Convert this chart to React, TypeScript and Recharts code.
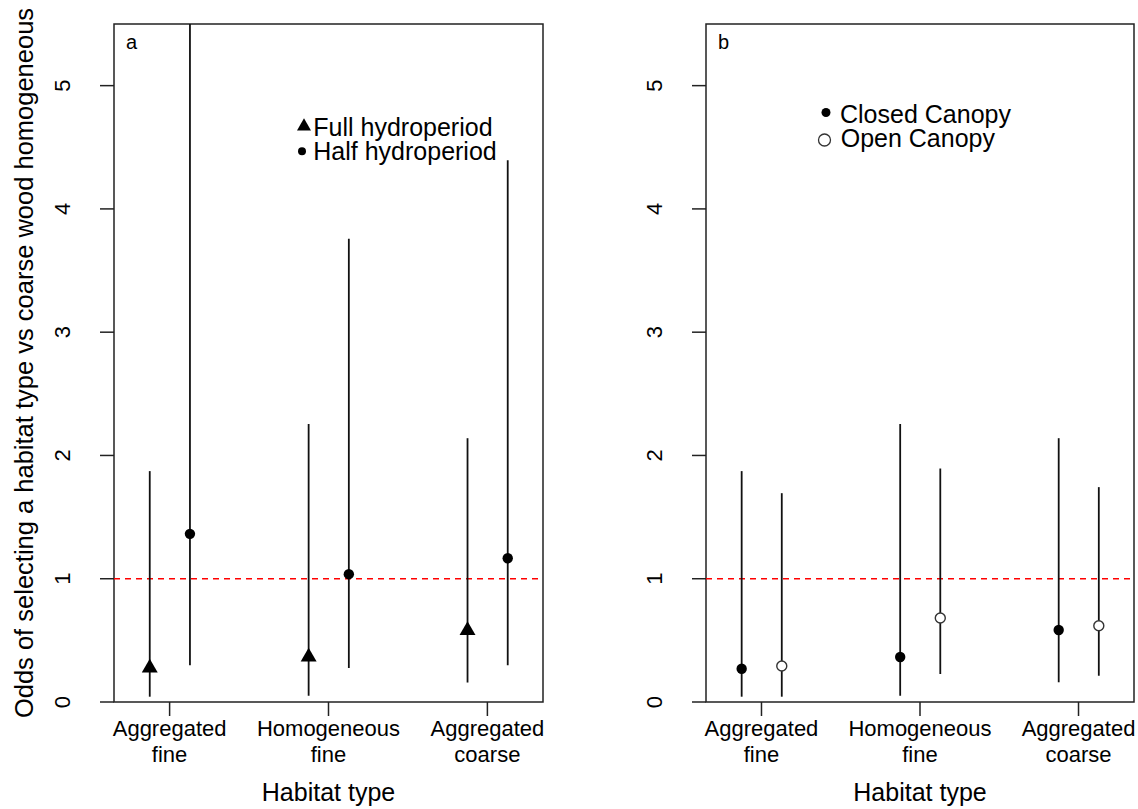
import React from 'react';
import {
  ScatterChart,
  Scatter,
  ErrorBar,
  XAxis,
  YAxis,
  ReferenceLine,
  ReferenceArea,
  Legend,
  Customized,
} from 'recharts';

// ---------- data ----------
const categories = ['Aggregated fine', 'Homogeneous fine', 'Aggregated coarse'];
const categoryLines = [
  ['Aggregated', 'fine'],
  ['Homogeneous', 'fine'],
  ['Aggregated', 'coarse'],
];
const xTicks = [1, 2, 3];
const yTicks = [0, 1, 2, 3, 4, 5];

// panel a
const fullEst = [0.276, 0.365, 0.58];
const fullLow = [0.043, 0.05, 0.158];
const fullHigh = [1.873, 2.256, 2.14];
const halfEst = [1.364, 1.037, 1.166];
const halfLow = [0.298, 0.276, 0.298];
const halfHigh = [5.5, 3.758, 4.394]; // first upper bound runs off the top of the plot

// panel b
const closedEst = [0.27, 0.365, 0.584];
const closedLow = [0.043, 0.05, 0.16];
const closedHigh = [1.873, 2.256, 2.14];
const openEst = [0.292, 0.682, 0.619];
const openLow = [0.043, 0.227, 0.213];
const openHigh = [1.694, 1.894, 1.743];

const seriesNamesA = ['Full hydroperiod', 'Half hydroperiod'];
const seriesNamesB = ['Closed Canopy', 'Open Canopy'];
const yTitle = 'Odds of selecting a habitat type vs coarse wood homogeneous';
const xTitle = 'Habitat type';

const FONT = '"Liberation Sans", Arial, Helvetica, sans-serif';
const DODGE_LEFT = -0.125;
const DODGE_RIGHT = 0.128;

function build(est: number[], low: number[], high: number[], offset: number) {
  return est.map((e, i) => ({
    x: i + 1 + offset,
    y: e,
    err: [e - low[i], high[i] - e],
    cat: categories[i],
  }));
}

const dataFull = build(fullEst, fullLow, fullHigh, DODGE_LEFT);
const dataHalf = build(halfEst, halfLow, halfHigh, DODGE_RIGHT);
const dataClosed = build(closedEst, closedLow, closedHigh, DODGE_LEFT);
const dataOpen = build(openEst, openLow, openHigh, DODGE_RIGHT);

// ---------- shapes ----------
const Triangle = (p: any) => {
  const { cx, cy } = p;
  const r = 9.2;
  return (
    <path
      d={`M${cx},${cy - r}L${cx + r * 0.866},${cy + r / 2}L${cx - r * 0.866},${cy + r / 2}Z`}
      fill="#000"
    />
  );
};
const Dot = (p: any) => <circle cx={p.cx} cy={p.cy} r={5.2} fill="#000" />;
const OpenDot = (p: any) => (
  <circle cx={p.cx} cy={p.cy} r={5} fill="#fff" stroke="#333" strokeWidth={1.4} />
);

// ---------- ticks ----------
const YTick = (props: any) => {
  const { x, y, payload } = props;
  const bx = x - 30;
  return (
    <text
      x={bx}
      y={y}
      transform={`rotate(-90 ${bx} ${y})`}
      textAnchor="middle"
      fontSize={22}
      fontFamily={FONT}
      fill="#000"
    >
      {payload.value}
    </text>
  );
};

const XTick = (props: any) => {
  const { x, y, payload } = props;
  const idx = xTicks.indexOf(payload.value);
  const lines = categoryLines[idx] || ['', ''];
  return (
    <g>
      <text x={x} y={y + 20} textAnchor="middle" fontSize={22} fontFamily={FONT} fill="#000">
        {lines[0]}
      </text>
      <text x={x} y={y + 46} textAnchor="middle" fontSize={22} fontFamily={FONT} fill="#000">
        {lines[1]}
      </text>
    </g>
  );
};

// ---------- legends ----------
const LegendA = () => (
  <svg width={240} height={70} style={{ overflow: 'visible' }}>
    <path
      d={`M14,${26.4 - 8.1}L${14 + 8.1 * 0.866},${26.4 + 4.05}L${14 - 8.1 * 0.866},${26.4 + 4.05}Z`}
      fill="#000"
    />
    <text x={23.3} y={36} fontSize={25} fontFamily={FONT} fill="#000">
      {seriesNamesA[0]}
    </text>
    <circle cx={12} cy={51.3} r={4} fill="#000" />
    <text x={23.3} y={60} fontSize={25} fontFamily={FONT} fill="#000">
      {seriesNamesA[1]}
    </text>
  </svg>
);

const LegendB = () => (
  <svg width={240} height={70} style={{ overflow: 'visible' }}>
    <circle cx={16} cy={17.5} r={4.5} fill="#000" />
    <text x={30} y={28} fontSize={25} fontFamily={FONT} fill="#000">
      {seriesNamesB[0]}
    </text>
    <circle cx={14.5} cy={45} r={6} fill="#fff" stroke="#333" strokeWidth={1.3} />
    <text x={30.7} y={51.5} fontSize={25} fontFamily={FONT} fill="#000">
      {seriesNamesB[1]}
    </text>
  </svg>
);

const X_DOMAIN: [number, number] = [0.65, 3.35];
const Y_DOMAIN: [number, number] = [0, 5.5];

type PanelProps = {
  left: number;
  yAxisWidth: number;
  rightMargin: number;
  panelLabel: string;
  series: { name: string; data: any[]; shape: any }[];
  legend: React.ReactElement;
  legendPos: { left: number; top: number };
  showYTitle: boolean;
};

function Panel(p: PanelProps) {
  const plotLeft = p.yAxisWidth;
  const plotRight = 569 - p.rightMargin;
  const centerX = (plotLeft + plotRight) / 2;
  return (
    <div style={{ position: 'absolute', left: p.left, top: 0, width: 569, height: 809 }}>
      <ScatterChart
        width={569}
        height={809}
        margin={{ top: 24, right: p.rightMargin, bottom: 27, left: 0 }}
      >
        <XAxis
          type="number"
          dataKey="x"
          domain={X_DOMAIN}
          allowDataOverflow
          ticks={xTicks}
          tickSize={14}
          tickMargin={0}
          height={80}
          axisLine={false}
          tickLine={{ stroke: '#222', strokeWidth: 1.5 }}
          tick={<XTick />}
          interval={0}
        />
        <YAxis
          type="number"
          dataKey="y"
          domain={Y_DOMAIN}
          allowDataOverflow
          ticks={yTicks}
          tickSize={14}
          tickMargin={0}
          width={p.yAxisWidth}
          axisLine={false}
          tickLine={{ stroke: '#222', strokeWidth: 1.5 }}
          tick={<YTick />}
          interval={0}
        />
        <ReferenceLine y={1} stroke="#ff0000" strokeWidth={1.5} strokeDasharray="6 5" />
        {p.series.map((s) => (
          <Scatter
            key={s.name}
            name={s.name}
            data={s.data}
            shape={s.shape}
            isAnimationActive={false}
          >
            <ErrorBar
              dataKey="err"
              direction="y"
              width={0}
              stroke="#111"
              strokeWidth={1.8}
              isAnimationActive={false}
            />
          </Scatter>
        ))}
        <ReferenceArea
          x1={X_DOMAIN[0]}
          x2={X_DOMAIN[1]}
          y1={Y_DOMAIN[0]}
          y2={Y_DOMAIN[1]}
          fill="none"
          fillOpacity={0}
          stroke="#222"
          strokeWidth={1.5}
          ifOverflow="visible"
        />
        <Legend
          layout="horizontal"
          verticalAlign="middle"
          align="center"
          content={() => p.legend}
          wrapperStyle={{ left: p.legendPos.left, top: p.legendPos.top, width: 240, height: 70 }}
        />
        <Customized
          component={() => (
            <g>
              <text x={plotLeft + 12} y={49} fontSize={20} fontFamily={FONT} fill="#000">
                {p.panelLabel}
              </text>
              <text
                x={centerX}
                y={801}
                textAnchor="middle"
                fontSize={25}
                fontFamily={FONT}
                fill="#000"
              >
                {xTitle}
              </text>
              {p.showYTitle ? (
                <text
                  x={33}
                  y={363}
                  transform="rotate(-90 33 363)"
                  textAnchor="middle"
                  fontSize={25.5}
                  fontFamily={FONT}
                  fill="#000"
                >
                  {yTitle}
                </text>
              ) : null}
            </g>
          )}
        />
      </ScatterChart>
    </div>
  );
}

export default function App() {
  return (
    <div
      style={{
        position: 'absolute',
        left: 0,
        top: 0,
        width: 1138,
        height: 809,
        background: '#fff',
        overflow: 'hidden',
      }}
    >
      <Panel
        left={0}
        yAxisWidth={114}
        rightMargin={26}
        panelLabel="a"
        series={[
          { name: seriesNamesA[0], data: dataFull, shape: Triangle },
          { name: seriesNamesA[1], data: dataHalf, shape: Dot },
        ]}
        legend={<LegendA />}
        legendPos={{ left: 290, top: 100 }}
        showYTitle
      />
      <Panel
        left={569}
        yAxisWidth={137}
        rightMargin={4}
        panelLabel="b"
        series={[
          { name: seriesNamesB[0], data: dataClosed, shape: Dot },
          { name: seriesNamesB[1], data: dataOpen, shape: OpenDot },
        ]}
        legend={<LegendB />}
        legendPos={{ left: 241, top: 95 }}
        showYTitle={false}
      />
    </div>
  );
}
